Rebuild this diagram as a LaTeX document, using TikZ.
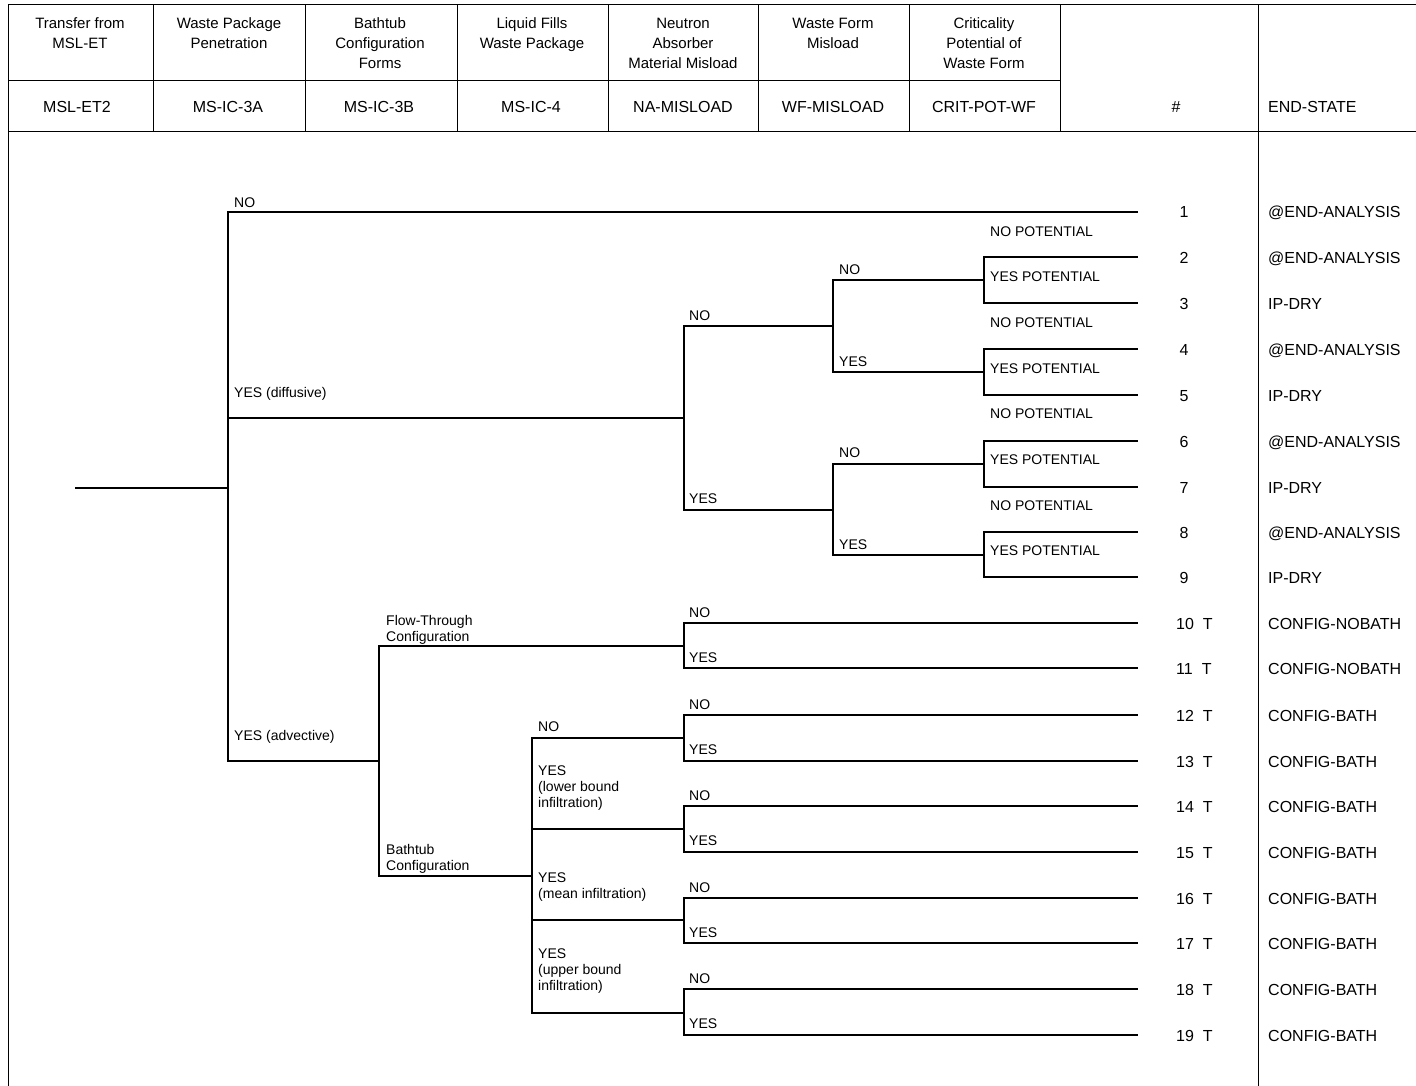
\documentclass[tikz,border=0pt]{standalone}
\usepackage{fontspec}
\setmainfont{Liberation Sans}
\begin{document}
\begin{tikzpicture}[x=1pt,y=-1pt,
  br/.style={line width=1.5pt, line cap=rect},
  gridline/.style={line width=1pt},
  lbl/.style={font=\fontsize{14}{16}\selectfont, anchor=north west, inner sep=0pt, align=left},
  hdr/.style={font=\fontsize{15}{20}\selectfont, anchor=north, inner sep=0pt, align=center},
  code/.style={font=\fontsize{16}{19}\selectfont, inner sep=0pt, anchor=center},
  num/.style={font=\fontsize{16}{19}\selectfont, inner sep=0pt},
  endst/.style={font=\fontsize{16}{19}\selectfont, inner sep=0pt, anchor=base west}]
\useasboundingbox (0,0) rectangle (1416,1086);

% ---------- table frame ----------
\draw[gridline] (8,5) -- (1416,5);
\draw[gridline] (8,81) -- (1060,81);
\draw[gridline] (8,132) -- (1416,132);
\draw[gridline] (8,5) -- (8,1086);
\draw[gridline] (1258,5) -- (1258,1086);
\foreach \x in {153,305,457,608,758,909,1060} {\draw[gridline] (\x,5) -- (\x,132);}

% ---------- header texts ----------
\node[hdr] (h1) at (80,17.5) {Transfer from\\MSL-ET};
\node[hdr] (h2) at (229,17.5) {Waste Package\\Penetration};
\node[hdr] (h3) at (380,17.5) {Bathtub\\Configuration\\Forms};
\node[hdr] (h4) at (532,17.5) {Liquid Fills\\Waste Package};
\node[hdr] (h5) at (683,17.5) {Neutron\\Absorber\\Material Misload};
\node[hdr] (h6) at (833,17.5) {Waste Form\\Misload};
\node[hdr] (h7) at (984,17.5) {Criticality\\Potential of\\Waste Form};
\node[code] (c1) at (77,107) {MSL-ET2};
\node[code] (c2) at (228,107) {MS-IC-3A};
\node[code] (c3) at (379,107) {MS-IC-3B};
\node[code] (c4) at (531,107) {MS-IC-4};
\node[code] (c5) at (683,107) {NA-MISLOAD};
\node[code] (c6) at (833,107) {WF-MISLOAD};
\node[code] (c7) at (984,107) {CRIT-POT-WF};
\node[code] (c8) at (1176,107) {\#};
\node[code, anchor=west] (c9) at (1268,107) {END-STATE};

% ---------- leaves, numbers, end states ----------
\foreach \i/\y/\s in {1/212/@END-ANALYSIS,2/257/@END-ANALYSIS,3/303/IP-DRY,4/349/@END-ANALYSIS,5/395/IP-DRY,6/441/@END-ANALYSIS,7/487/IP-DRY,8/532/@END-ANALYSIS,9/577/IP-DRY}{
  \coordinate (e\i) at (1137,\y);
  \node[num, anchor=base] (n\i) at (1184,\y+6) {\i};
  \node[endst] (s\i) at (1268,\y+6) {\s};
}
\foreach \i/\y/\s in {10/623/CONFIG-NOBATH,11/668/CONFIG-NOBATH,12/715/CONFIG-BATH,13/761/CONFIG-BATH,14/806/CONFIG-BATH,15/852/CONFIG-BATH,16/898/CONFIG-BATH,17/943/CONFIG-BATH,18/989/CONFIG-BATH,19/1035/CONFIG-BATH}{
  \coordinate (e\i) at (1137,\y);
  \node[num, anchor=base west] (n\i) at (1176,\y+6) {\i\hspace{9pt}T};
  \node[endst] (s\i) at (1268,\y+6) {\s};
}

% ---------- branch points ----------
\coordinate (root) at (76,488);
\coordinate (A) at (228,488);
\coordinate (D) at (684,418);
\coordinate (DN) at (833,326);
\coordinate (DY) at (833,510);
\coordinate (DNN) at (984,280);
\coordinate (DNY) at (984,372);
\coordinate (DYN) at (984,464);
\coordinate (DYY) at (984,555);
\coordinate (V) at (379,761);
\coordinate (F) at (684,646);
\coordinate (B) at (532,876);
\coordinate (B1) at (684,738);
\coordinate (B2) at (684,829);
\coordinate (B3) at (684,920);
\coordinate (B4) at (684,1013);

% ---------- connectors ----------
\draw[br] (root) -- (A);
\draw[br] (A) |- (e1);
\draw[br] (A) |- (D);
\draw[br] (A) |- (V);
\draw[br] (D) |- (DN);
\draw[br] (D) |- (DY);
\draw[br] (DN) |- (DNN);
\draw[br] (DN) |- (DNY);
\draw[br] (DY) |- (DYN);
\draw[br] (DY) |- (DYY);
\draw[br] (DNN) |- (e2);
\draw[br] (DNN) |- (e3);
\draw[br] (DNY) |- (e4);
\draw[br] (DNY) |- (e5);
\draw[br] (DYN) |- (e6);
\draw[br] (DYN) |- (e7);
\draw[br] (DYY) |- (e8);
\draw[br] (DYY) |- (e9);
\draw[br] (V) |- (F);
\draw[br] (V) |- (B);
\draw[br] (F) |- (e10);
\draw[br] (F) |- (e11);
\draw[br] (B) |- (B1);
\draw[br] (B) |- (B2);
\draw[br] (B) |- (B3);
\draw[br] (B) |- (B4);
\draw[br] (B1) |- (e12);
\draw[br] (B1) |- (e13);
\draw[br] (B2) |- (e14);
\draw[br] (B2) |- (e15);
\draw[br] (B3) |- (e16);
\draw[br] (B3) |- (e17);
\draw[br] (B4) |- (e18);
\draw[br] (B4) |- (e19);

% ---------- branch labels ----------
\node[lbl] (l1) at (234,198) {NO};
\node[lbl] (l2) at (234,387) {YES (diffusive)};
\node[lbl] (l3) at (234,730) {YES (advective)};
\node[lbl] (l4) at (689,311) {NO};
\node[lbl] (l5) at (689,494) {YES};
\node[lbl] (l6) at (839,265) {NO};
\node[lbl] (l7) at (839,357) {YES};
\node[lbl] (l8) at (839,448) {NO};
\node[lbl] (l9) at (839,540) {YES};
\node[lbl] (p1) at (990,227) {NO POTENTIAL};
\node[lbl] (p2) at (990,272) {YES POTENTIAL};
\node[lbl] (p3) at (990,318) {NO POTENTIAL};
\node[lbl] (p4) at (990,364) {YES POTENTIAL};
\node[lbl] (p5) at (990,409) {NO POTENTIAL};
\node[lbl] (p6) at (990,455) {YES POTENTIAL};
\node[lbl] (p7) at (990,501) {NO POTENTIAL};
\node[lbl] (p8) at (990,546) {YES POTENTIAL};
\node[lbl] (l10) at (386,615) {Flow-Through\\Configuration};
\node[lbl] (l11) at (386,844) {Bathtub\\Configuration};
\node[lbl] (l12) at (689,608) {NO};
\node[lbl] (l13) at (689,653) {YES};
\node[lbl] (l14) at (538,722) {NO};
\node[lbl] (l15) at (538,766) {YES\\(lower bound\\infiltration)};
\node[lbl] (l16) at (538,873) {YES\\(mean infiltration)};
\node[lbl] (l17) at (538,949) {YES\\(upper bound\\infiltration)};
\foreach \k/\y in {a/700,b/791,c/883,d/974}{
  \node[lbl] (bn\k) at (689,\y) {NO};
  \node[lbl] (by\k) at (689,\y+45) {YES};
}
\end{tikzpicture}
\end{document}
